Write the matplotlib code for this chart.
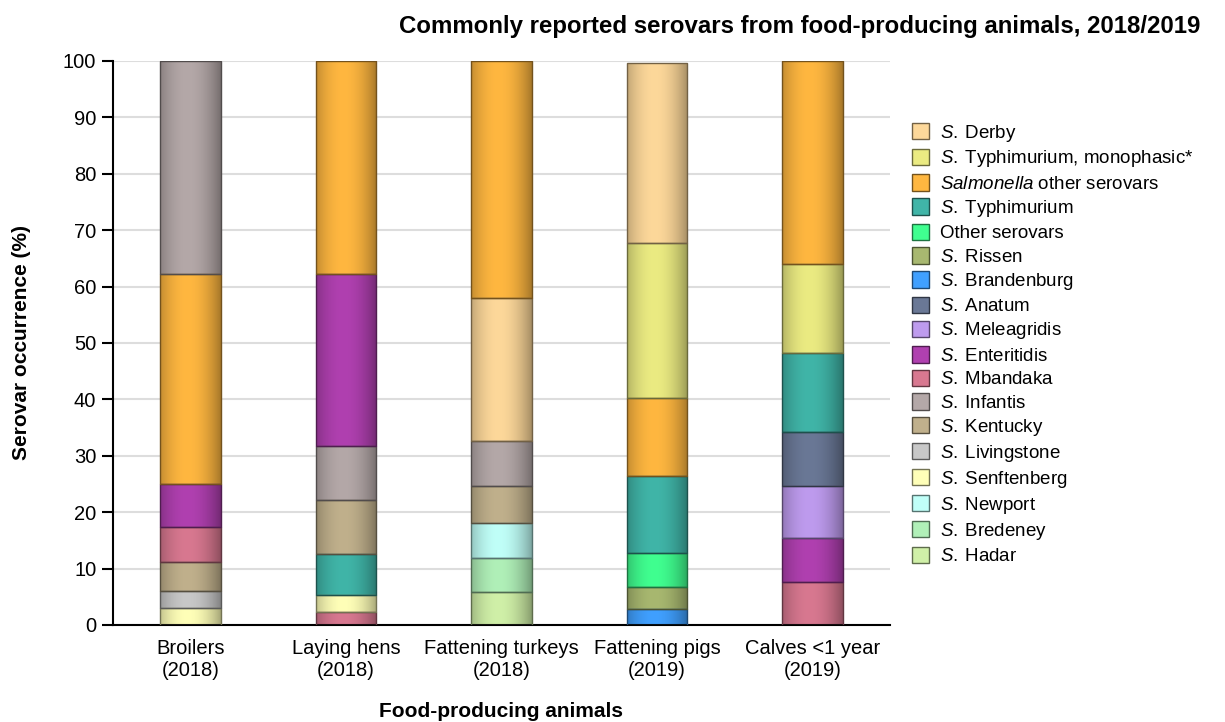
import numpy as np
import matplotlib
matplotlib.use("Agg")
import matplotlib.pyplot as plt
from matplotlib.patches import Patch, Rectangle
from matplotlib.colors import to_rgb

plt.rcParams['font.family'] = ['Liberation Sans', 'DejaVu Sans']
plt.rcParams['mathtext.fontset'] = 'custom'
plt.rcParams['mathtext.it'] = 'Liberation Sans:italic'
plt.rcParams['mathtext.rm'] = 'Liberation Sans'

# categories
animals = ["Broilers\n(2018)", "Laying hens\n(2018)", "Fattening turkeys\n(2018)",
           "Fattening pigs\n(2019)", "Calves <1 year\n(2019)"]

# legend order (top to bottom) and colours
serovars = ["Derby", "Typhimurium, monophasic*", "Salmonella other serovars", "Typhimurium",
            "Other serovars", "Rissen", "Brandenburg", "Anatum", "Meleagridis", "Enteritidis",
            "Mbandaka", "Infantis", "Kentucky", "Livingstone", "Senftenberg", "Newport",
            "Bredeney", "Hadar"]
colors = ["#FDD89A", "#EBEB82", "#FFB740", "#40B5A8", "#40FF90", "#A8B870", "#40A0FF",
          "#6A7896", "#BE9BEE", "#B040B0", "#D87890", "#B4A8A8", "#C0B08C", "#C8C8C8",
          "#FFFFB8", "#C0FFF8", "#B0F0B8", "#D0F0A8"]

# stacks per animal, bottom to top
broilers_sv = ["Senftenberg", "Livingstone", "Kentucky", "Mbandaka", "Enteritidis",
               "Salmonella other serovars", "Infantis"]
broilers_val = [3.0, 3.0, 5.2, 6.1, 7.7, 37.2, 37.8]

hens_sv = ["Mbandaka", "Senftenberg", "Typhimurium", "Kentucky", "Infantis", "Enteritidis",
           "Salmonella other serovars"]
hens_val = [2.3, 3.0, 7.3, 9.5, 9.7, 30.4, 37.8]

turkeys_sv = ["Hadar", "Bredeney", "Newport", "Kentucky", "Infantis", "Derby",
              "Salmonella other serovars"]
turkeys_val = [5.8, 6.1, 6.2, 6.5, 8.1, 25.2, 42.1]

pigs_sv = ["Brandenburg", "Rissen", "Other serovars", "Typhimurium", "Salmonella other serovars",
           "Typhimurium, monophasic*", "Derby"]
pigs_val = [2.9, 3.9, 5.9, 13.7, 13.9, 27.5, 31.8]

calves_sv = ["Mbandaka", "Enteritidis", "Meleagridis", "Anatum", "Typhimurium",
             "Typhimurium, monophasic*", "Salmonella other serovars"]
calves_val = [7.6, 7.8, 9.3, 9.6, 13.9, 15.8, 36.0]

stacks = [(broilers_sv, broilers_val), (hens_sv, hens_val), (turkeys_sv, turkeys_val),
          (pigs_sv, pigs_val), (calves_sv, calves_val)]

color_of = dict(zip(serovars, colors))


def label_of(name):
    if name == "Salmonella other serovars":
        return r"$\it{Salmonella}$ other serovars"
    if name == "Other serovars":
        return name
    return r"$\it{S.}$" + "\u2009" + name


def shade(col, n=64):
    # horizontal light-to-dark profile, like the cylinder look of the original
    t = np.linspace(0, 1, n)
    f = 1 - 0.34 * ((t - 0.45) / 0.55) ** 2
    c = np.array(to_rgb(col))
    return np.clip(c[None, :] * f[:, None], 0, 1)[None, :, :]


fig = plt.figure(figsize=(12.25, 7.22), dpi=100)
ax = fig.add_axes([113 / 1225, 1 - 625 / 722, 777 / 1225, 564 / 722])

width = 0.39
for i, (svs, vals) in enumerate(stacks):
    bottom = 0
    for sv, v in zip(svs, vals):
        col = color_of[sv]
        x0 = i - width / 2
        ax.imshow(shade(col), extent=[x0, x0 + width, bottom, bottom + v],
                  aspect='auto', interpolation='bilinear', zorder=2)
        edge = np.array(to_rgb(col)) * 0.45
        ax.add_patch(Rectangle((x0, bottom), width, v, fill=False,
                               edgecolor=edge, linewidth=1, zorder=3))
        bottom += v

ax.set_xlim(-0.5, 4.5)
ax.set_ylim(0, 100)
ax.set_yticks(np.arange(0, 101, 10))
ax.set_xticks(range(len(animals)))
ax.set_xticklabels(animals, fontsize=14.5)
ax.tick_params(axis='y', labelsize=14.5, direction='out', length=8, width=1.5, pad=4)
ax.tick_params(axis='x', length=0, pad=10)
ax.grid(axis='y', color='#DDDDDD', linewidth=1.5, zorder=0)
ax.set_axisbelow(True)
for s in ['top', 'right']:
    ax.spines[s].set_visible(False)
ax.spines['left'].set_linewidth(1.5)
ax.spines['bottom'].set_linewidth(1.5)

ax.set_ylabel("Serovar occurrence (%)", fontsize=15, fontweight='bold')
ax.yaxis.set_label_coords((31 - 113) / 777, 0.5)
ax.set_xlabel("Food-producing animals", fontsize=15, fontweight='bold')
ax.xaxis.set_label_coords(0.5, (625 - 702) / 564)
fig.text(1200 / 1225, 1 - 26 / 722, "Commonly reported serovars from food-producing animals, 2018/2019",
         ha='right', va='center', fontsize=17.3, fontweight='bold')

handles = [Patch(facecolor=c, edgecolor=np.array(to_rgb(c)) * 0.45, linewidth=1)
           for c in colors]
fig.legend(handles, [label_of(s) for s in serovars], loc='upper left',
           bbox_to_anchor=(904 / 1225, 1 - 115 / 722), frameon=False, fontsize=13.5,
           handlelength=0.95, handleheight=0.95, handletextpad=0.55, labelspacing=0.265,
           borderaxespad=0)

fig.savefig("out.png", dpi=100)
